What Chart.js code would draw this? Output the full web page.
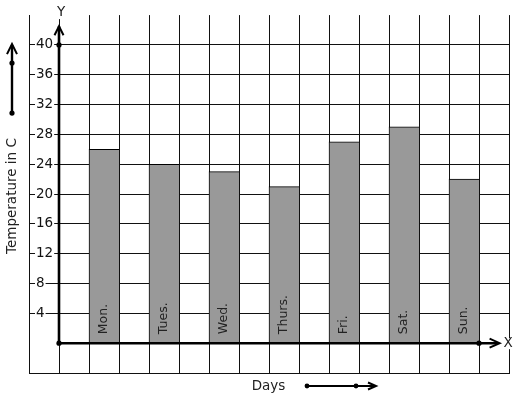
<!DOCTYPE html>
<html><head><meta charset="utf-8">
<script src="https://cdn.jsdelivr.net/npm/chart.js@4/dist/chart.umd.min.js"></script>
<style>html,body{margin:0;padding:0;background:#fff;overflow:hidden}</style>
</head><body>
<canvas id="c" width="517" height="399"></canvas>
<script>
const days = ['Mon.', 'Tues.', 'Wed.', 'Thurs.', 'Fri.', 'Sat.', 'Sun.'];
const temps = [26, 24, 23, 21, 27, 29, 22];
const yTickLabels = [4, 8, 12, 16, 20, 24, 28, 32, 36, 40];
const xAxisTitle = 'Days';
const yAxisTitle = 'Temperature in C';
const xAxisName = 'X';
const yAxisName = 'Y';

const FONT = '"DejaVu Sans", "Liberation Sans", sans-serif';
const points = days.map((d, i) => ({x: 2 * i + 1.5, y: temps[i]}));

function chevron(ctx, tx, ty, dx, dy, len, half) {
  const px = -dy, py = dx;
  ctx.beginPath();
  ctx.moveTo(tx - dx * len + px * half, ty - dy * len + py * half);
  ctx.lineTo(tx, ty);
  ctx.lineTo(tx - dx * len - px * half, ty - dy * len - py * half);
  ctx.stroke();
}
function dot(ctx, x, y, r) {
  ctx.beginPath(); ctx.arc(x, y, r, 0, Math.PI * 2); ctx.fill();
}

const deco = {
  id: 'deco',
  afterDatasetsDraw(chart) {
    const {ctx, chartArea: ca, scales: {x, y}} = chart;
    const x0 = x.getPixelForValue(0), y0 = y.getPixelForValue(0);
    ctx.save();
    // bar labels
    const meta = chart.getDatasetMeta(0);
    ctx.font = '12.5px ' + FONT;
    ctx.fillStyle = '#222';
    meta.data.forEach((bar, i) => {
      ctx.save();
      ctx.translate(bar.x - 0.5, y0 - 9);
      ctx.rotate(-Math.PI / 2);
      ctx.textAlign = 'left'; ctx.textBaseline = 'middle';
      ctx.fillText(days[i], 0, 0);
      ctx.restore();
    });
    // axes
    ctx.strokeStyle = '#000'; ctx.fillStyle = '#000';
    ctx.lineWidth = 2.6;
    const yTop = y.getPixelForValue(42.5);
    const xEnd = x.getPixelForValue(14.62);
    ctx.beginPath(); ctx.moveTo(x0, y0); ctx.lineTo(x0, yTop); ctx.stroke();
    ctx.beginPath(); ctx.moveTo(x0, y0); ctx.lineTo(xEnd, y0); ctx.stroke();
    ctx.lineWidth = 2;
    chevron(ctx, x0, yTop, 0, -1, 9, 4.5);
    chevron(ctx, xEnd + 2, y0, 1, 0, 10, 4.5);
    dot(ctx, x0, y0, 2.6);
    dot(ctx, x0, y.getPixelForValue(40), 2.6);
    dot(ctx, x.getPixelForValue(14), y0, 2.6);
    // axis names
    ctx.font = '13.5px ' + FONT;
    ctx.textAlign = 'center'; ctx.textBaseline = 'middle';
    ctx.fillStyle = '#fff';
    ctx.fillRect(x0 - 4, ca.top - 8, 13, 12);
    ctx.fillRect(ca.right - 5, y0 - 5, 10, 11);
    ctx.fillStyle = '#222';
    ctx.fillText(yAxisName, x0 + 2, ca.top - 3);
    ctx.fillText(xAxisName, ca.right - 1, y0 + 0.5);
    // titles
    ctx.fillText(xAxisTitle, 268.5, ca.bottom + 13);
    ctx.save();
    ctx.translate(ca.left - 16.5, (ca.top + ca.bottom) / 2 + 2);
    ctx.rotate(-Math.PI / 2);
    ctx.fillText(yAxisTitle, 0, 0);
    ctx.restore();
    // decorative arrows
    ctx.fillStyle = '#000'; ctx.strokeStyle = '#000';
    const lx = ca.left - 17;
    ctx.lineWidth = 2.4;
    ctx.beginPath(); ctx.moveTo(lx, ca.top + 98); ctx.lineTo(lx, ca.top + 30); ctx.stroke();
    ctx.lineWidth = 2;
    chevron(ctx, lx, ca.top + 29, 0, -1, 10, 5);
    dot(ctx, lx, ca.top + 48, 2.6);
    dot(ctx, lx, ca.top + 98, 2.6);
    const dy = ca.bottom + 13;
    ctx.lineWidth = 2;
    ctx.beginPath(); ctx.moveTo(307, dy); ctx.lineTo(375, dy); ctx.stroke();
    chevron(ctx, 376, dy, 1, 0, 8, 3.5);
    dot(ctx, 307, dy, 2.4);
    dot(ctx, 356, dy, 2.4);
    ctx.restore();
  }
};

new Chart(document.getElementById('c'), {
  type: 'bar',
  data: {
    datasets: [{
      data: points,
      backgroundColor: '#999999',
      borderColor: '#000',
      borderWidth: {top: 1, left: 1, right: 0, bottom: 0},
      borderSkipped: false,
      barPercentage: 1,
      categoryPercentage: 1
    }]
  },
  options: {
    responsive: false,
    animation: false,
    devicePixelRatio: 1,
    layout: {padding: {left: 15, right: 8, top: 13, bottom: 26}},
    plugins: {legend: {display: false}, tooltip: {enabled: false}},
    scales: {
      x: {
        type: 'linear', min: -1, max: 15, offset: false,
        ticks: {display: false, stepSize: 1},
        grid: {color: '#111', lineWidth: 1, drawTicks: false, offset: false},
        border: {color: '#111', width: 1}
      },
      y: {
        type: 'linear', min: -4, max: 44,
        ticks: {
          stepSize: 4, mirror: true, padding: 7, z: 1,
          color: '#111',
          font: {family: FONT, size: 13.5},
          callback: v => yTickLabels.includes(v) ? String(v) : null,
          showLabelBackdrop: true, backdropColor: '#fff',
          backdropPadding: {left: 1, right: 1, top: 0, bottom: 0}
        },
        grid: {color: '#111', lineWidth: 1, drawTicks: false},
        border: {color: '#111', width: 1}
      }
    }
  },
  plugins: [deco]
});
</script>
</body></html>
